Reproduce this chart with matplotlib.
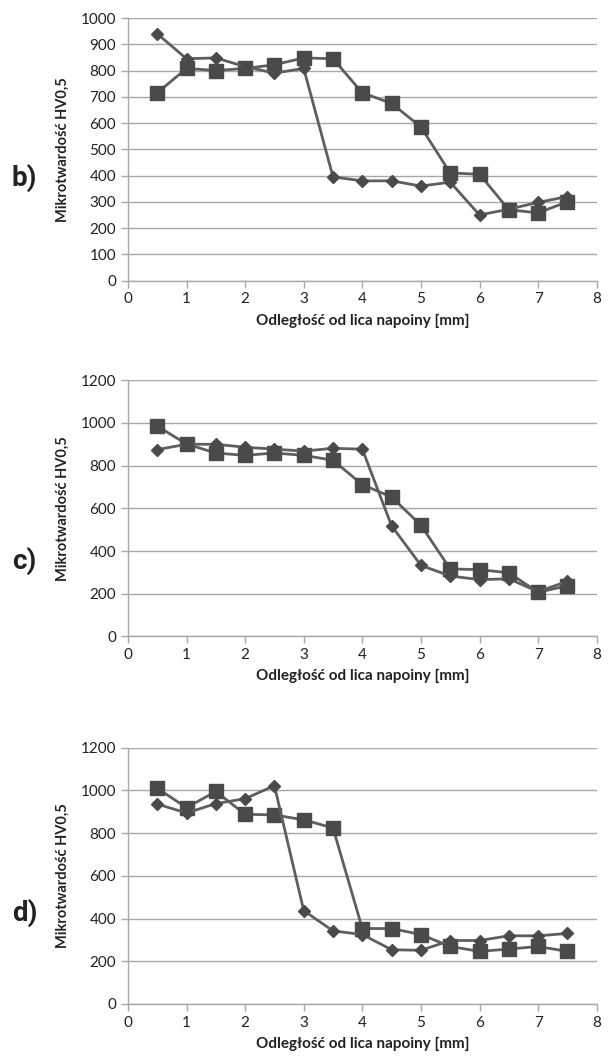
"""Microhardness profiles across the weld overlay, panels b), c), d)."""
import matplotlib.pyplot as plt

# distance from the overlay face [mm]
distance = [0.5, 1, 1.5, 2, 2.5, 3, 3.5, 4, 4.5, 5, 5.5, 6, 6.5, 7, 7.5]

# panel b)
b_diamond = [940, 845, 848, 815, 790, 808, 395, 380, 380, 360, 375, 250, 272, 298, 320]
b_square = [715, 808, 800, 808, 822, 848, 845, 715, 675, 585, 410, 405, 270, 258, 300]

# panel c)
c_diamond = [875, 900, 900, 886, 877, 868, 881, 877, 518, 333, 283, 266, 270, 210, 258]
c_square = [985, 901, 859, 848, 859, 848, 825, 711, 653, 521, 316, 313, 298, 207, 237]

# panel d)
d_diamond = [936, 894, 938, 961, 1022, 437, 342, 325, 254, 251, 297, 297, 319, 319, 330]
d_square = [1010, 919, 995, 888, 885, 862, 824, 353, 353, 325, 269, 246, 257, 269, 246]

panel_labels = ["b)", "c)", "d)"]
y_limits = [1000, 1200, 1200]
y_steps = [100, 200, 200]

XLABEL = "Odległość od lica napoiny [mm]"
YLABEL = "Mikrotwardość HV0,5"
LINE_COLOR = "#5e5e5e"
MARKER_COLOR = "#4a4a4a"
GRID_COLOR = "#a8a8a8"
TICK_FONT = "Lato"

# axes rectangles in figure fraction: left, bottom, width, height
AXES_RECTS = [
    (0.209, 0.735, 0.766, 0.248),
    (0.209, 0.399, 0.766, 0.242),
    (0.209, 0.052, 0.766, 0.242),
]
LETTER_Y = [0.832, 0.470, 0.138]


def draw_panel(fig, rect, diamonds, squares, ymax, ystep, letter, letter_y):
    ax = fig.add_axes(rect)
    ax.plot(distance, squares, color=LINE_COLOR, lw=2.0, marker="s", ms=9.5,
            mfc=MARKER_COLOR, mec=MARKER_COLOR, zorder=3)
    ax.plot(distance, diamonds, color=LINE_COLOR, lw=2.0, marker="D", ms=6,
            mfc=MARKER_COLOR, mec=MARKER_COLOR, zorder=4)

    ax.set_xlim(0, 8)
    ax.set_ylim(0, ymax)
    ax.set_xticks(range(0, 9))
    ax.set_yticks(range(0, ymax + 1, ystep))
    ax.grid(True, axis="y", color=GRID_COLOR, lw=1.0)
    ax.set_axisbelow(True)
    for side in ("top", "right"):
        ax.spines[side].set_visible(False)
    for side in ("left", "bottom"):
        ax.spines[side].set_color(GRID_COLOR)
        ax.spines[side].set_linewidth(1.0)
    ax.tick_params(axis="both", colors=GRID_COLOR, length=5, width=1.0,
                   labelcolor="#222222", labelsize=11)
    for lab in ax.get_xticklabels() + ax.get_yticklabels():
        lab.set_fontfamily(TICK_FONT)

    ax.set_xlabel(XLABEL, fontfamily=TICK_FONT, fontweight="bold",
                  fontsize=11, color="#222222", labelpad=5)
    ax.set_ylabel(YLABEL, fontfamily=TICK_FONT, fontweight="bold",
                  fontsize=10.5, color="#222222", labelpad=8)
    fig.text(0.040, letter_y, letter, fontfamily="Roboto", fontweight="bold",
             fontsize=20, color="#222222", ha="center", va="center")
    return ax


def main() -> None:
    fig = plt.figure(figsize=(6.12, 10.59), dpi=100)
    series = [(b_diamond, b_square), (c_diamond, c_square), (d_diamond, d_square)]
    for (dia, sq), rect, ymax, ystep, letter, ly in zip(
        series, AXES_RECTS, y_limits, y_steps, panel_labels, LETTER_Y
    ):
        draw_panel(fig, rect, dia, sq, ymax, ystep, letter, ly)
    fig.savefig("out.png", dpi=100, facecolor="white")
    plt.close(fig)


if __name__ == "__main__":
    main()
